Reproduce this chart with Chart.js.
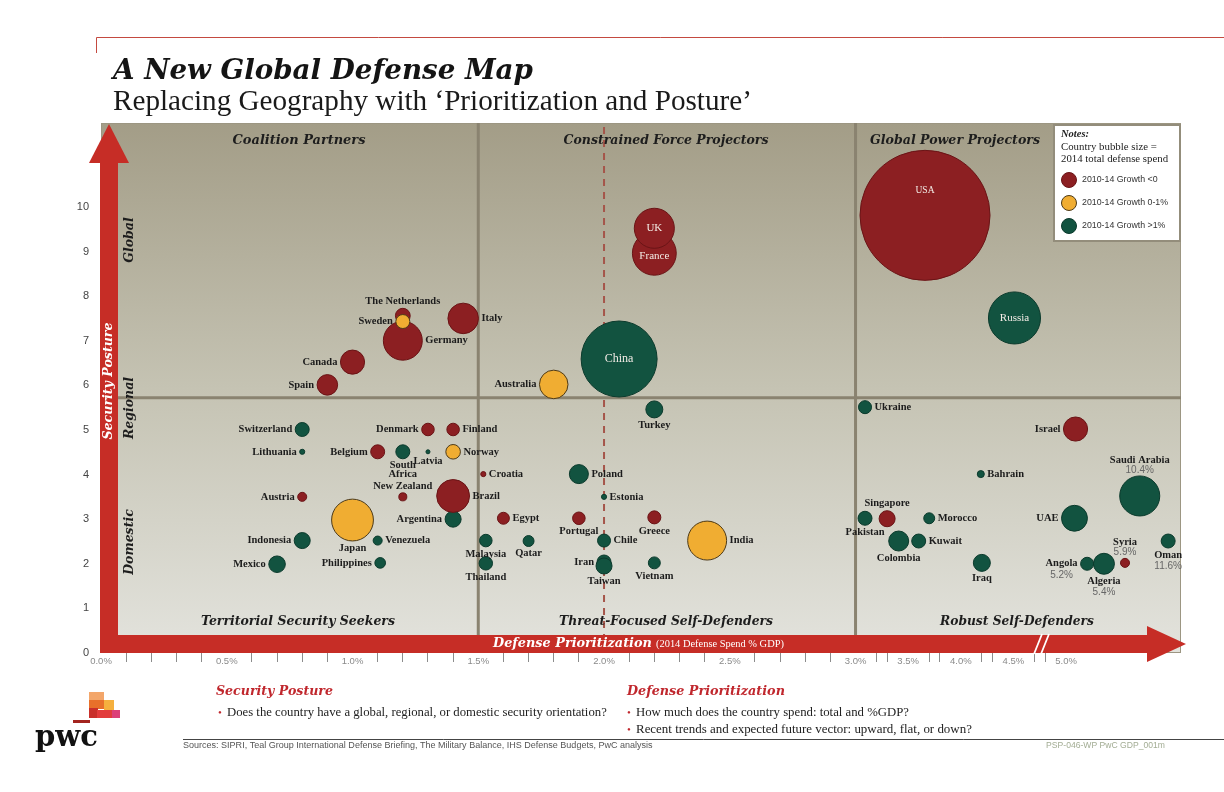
<!DOCTYPE html>
<html><head><meta charset="utf-8">
<script src="https://cdn.jsdelivr.net/npm/chart.js@4.4.1/dist/chart.umd.min.js"></script>
<style>html,body{margin:0;padding:0;background:#fff;}canvas{display:block;}</style>
</head><body>
<canvas id="c" width="1224" height="792"></canvas>
<script>
// ---------------- DATA ----------------
const countries = ['USA','China','Russia','Saudi Arabia','France','UK','Japan','India','Germany','Italy',
  'Brazil','Australia','Canada','Spain','Israel','UAE','The Netherlands','Sweden','Switzerland','Lithuania',
  'Denmark','Finland','Belgium','South Africa','Latvia','Norway','Croatia','New Zealand','Austria','Argentina',
  'Egypt','Indonesia','Venezuela','Malaysia','Qatar','Mexico','Philippines','Thailand','Turkey','Poland',
  'Estonia','Portugal','Greece','Chile','Iran','Taiwan','Vietnam','Ukraine','Bahrain','Singapore',
  'Pakistan','Morocco','Colombia','Kuwait','Iraq','Angola','Algeria','Syria','Oman'];
// position on the (broken) x axis, % of GDP
const spendPctGDP = [3.66,2.06,4.51,5.70,2.20,2.20,1.00,2.41,1.20,1.44,
  1.40,1.80,1.00,0.90,5.09,5.08,1.20,1.20,0.80,0.80,
  1.30,1.40,1.10,1.20,1.30,1.40,1.52,1.20,0.80,1.40,
  1.60,0.80,1.10,1.53,1.70,0.70,1.11,1.53,2.20,1.90,
  2.00,1.90,2.20,2.00,2.00,2.00,2.20,3.09,4.19,3.30,
  3.09,3.70,3.41,3.60,4.20,5.20,5.36,5.56,5.97];
// security posture score
const posture = [9.81,6.59,7.51,3.52,8.96,9.52,2.98,2.52,7.00,7.50,
  3.52,6.02,6.52,6.01,5.02,3.02,7.56,7.43,5.01,4.51,
  5.01,5.01,4.51,4.51,4.51,4.51,4.01,3.50,3.50,3.00,
  3.02,2.52,2.52,2.52,2.51,1.99,2.02,2.01,5.46,4.01,
  3.50,3.02,3.04,2.52,2.04,1.95,2.02,5.51,4.01,3.01,
  3.02,3.02,2.51,2.51,2.02,2.00,2.00,2.02,2.51];
// 2014 total defense spend (US$ bn)
const spendBn = [580,198,93,55,66,55,60,52,52,32,
  37,28,20,14.5,20,23,7.5,6.7,6.7,0.9,
  5.4,5.4,6.7,6.7,0.55,7.3,0.9,2.2,2.8,8.8,
  4.9,8.8,2.8,5.4,4.1,9.4,3.9,6.2,9.9,12.4,
  0.9,5.4,5.8,5.8,6.7,8.8,4.9,5.8,1.7,8.8,
  6.7,4.1,13.7,6.7,9.9,5.8,15.1,2.8,6.7];
// 2010-14 growth class
const growth = ['neg','pos','pos','pos','neg','neg','flat','flat','neg','neg',
  'neg','flat','neg','neg','neg','pos','neg','flat','pos','pos',
  'neg','neg','neg','pos','pos','flat','neg','neg','neg','pos',
  'neg','pos','pos','pos','pos','pos','pos','pos','pos','pos',
  'pos','neg','neg','pos','pos','pos','pos','pos','pos','neg',
  'pos','pos','pos','pos','pos','pos','pos','neg','pos'];
// label placement: l/r/t/b, b2 = two-line below, c = inside, cu = inside upper
const labelSide = ['cu','c','c','t','c','c','b','r','r','r',
  'r','l','l','l','l','l','t','l','l','l',
  'l','r','l','b2','b','r','r','t','l','l',
  'r','l','r','b','b','l','l','b','b','r',
  'r','b','b','r','l','b','b','r','r','t',
  'b','r','b','r','b','l','b','t','b'];
const labelNote = {'Saudi Arabia':'10.4%','Angola':'5.2%','Algeria':'5.4%','Syria':'5.9%','Oman':'11.6%'};

const groups = ['flat','neg','pos'];
const groupNames = {neg:'2010-14 Growth <0', flat:'2010-14 Growth 0-1%', pos:'2010-14 Growth >1%'};
const yTickValues = [0,1,2,3,4,5,6,7,8,9,10];
const xTickValues = [0,0.1,0.2,0.3,0.4,0.5,0.6,0.7,0.8,0.9,1.0,1.1,1.2,1.3,1.4,1.5,1.6,1.7,1.8,1.9,2.0,
  2.1,2.2,2.3,2.4,2.5,2.6,2.7,2.8,2.9,3.0,3.2,3.3,3.5,3.7,3.8,4.0,4.2,4.3,4.5,4.7,4.8,5.0];
const xTickLabels = {0:'0.0%',0.5:'0.5%',1.0:'1.0%',1.5:'1.5%',2.0:'2.0%',2.5:'2.5%',3.0:'3.0%',3.5:'3.5%',4.0:'4.0%',4.5:'4.5%',5.0:'5.0%'};
const quadrantSplitX = [1.5, 3.0];
const quadrantSplitY = 5.72;
const referenceLineX = 2.0;

// ---------------- STYLE ----------------
const colors = {
  neg:  {fill:'#8c1f22', border:'#6a1416'},
  flat: {fill:'#f0ad32', border:'#4d3a18'},
  pos:  {fill:'#125340', border:'#0b3a2c'}
};
const RED = '#c62d26';
const BREAK = 3.0, COMPRESS = 0.4185;
const tx = v => v <= BREAK ? v : BREAK + (v - BREAK) * COMPRESS;
const radius = s => 2.7 * Math.sqrt(s);

const datasets = groups.map(g => {
  const idx = [];
  countries.forEach((c, i) => { if (growth[i] === g) idx.push(i); });
  return {
    label: groupNames[g],
    idx: idx,
    data: idx.map(i => ({x: tx(spendPctGDP[i]), y: posture[i], r: radius(spendBn[i])})),
    backgroundColor: colors[g].fill,
    borderColor: colors[g].border,
    borderWidth: 1,
    hoverRadius: 0
  };
});

function T(ctx, text, x, y, o) {
  o = o || {};
  ctx.save();
  const fam = o.family || 'Liberation Serif';
  const style = (o.italic ? 'italic ' : '') + (o.bold ? 'bold ' : '');
  let size = o.size || 12;
  if (o.fit) { ctx.font = style + '100px "' + fam + '"'; size = 100 * o.fit / ctx.measureText(text).width; }
  ctx.font = style + size.toFixed(2) + 'px "' + fam + '"';
  ctx.fillStyle = o.color || '#222';
  ctx.textAlign = o.align || 'left';
  ctx.textBaseline = o.baseline || 'middle';
  ctx.translate(x, y);
  if (o.rot) ctx.rotate(o.rot);
  ctx.fillText(text, 0, 0);
  const w = ctx.measureText(text).width;
  ctx.restore();
  return w;
}

const decor = {
  id: 'decor',
  beforeDraw(chart) {
    const ctx = chart.ctx;
    ctx.save();
    ctx.fillStyle = '#fff';
    ctx.fillRect(0, 0, chart.width, chart.height);
    ctx.strokeStyle = '#c44a40'; ctx.lineWidth = 1;
    ctx.beginPath(); ctx.moveTo(96.5, 53); ctx.lineTo(96.5, 37.5); ctx.lineTo(1224, 37.5); ctx.stroke();
    ctx.restore();
    T(ctx, 'A New Global Defense Map', 113, 79, {fit:420, bold:true, italic:true, family:'DejaVu Serif', color:'#141414', baseline:'alphabetic'});
    T(ctx, 'Replacing Geography with \u2018Prioritization and Posture\u2019', 113, 110, {fit:639, family:'Liberation Serif', color:'#1a1a1a', baseline:'alphabetic'});
  },
  beforeDatasetsDraw(chart) {
    const ctx = chart.ctx, a = chart.chartArea, xs = chart.scales.x, ys = chart.scales.y;
    ctx.save();
    const g = ctx.createLinearGradient(0, a.top, 0, a.bottom);
    g.addColorStop(0, '#a39d87'); g.addColorStop(0.5, '#c5c3b3'); g.addColorStop(1, '#e3e3dd');
    ctx.fillStyle = g;
    ctx.fillRect(a.left, a.top, a.right - a.left, a.bottom - a.top);
    ctx.strokeStyle = '#9c9682'; ctx.lineWidth = 1;
    ctx.strokeRect(a.left + 0.5, a.top + 0.5, a.right - a.left - 1, a.bottom - a.top - 1);
    // quadrant lines
    ctx.strokeStyle = '#8a8370'; ctx.lineWidth = 3;
    const hy = ys.getPixelForValue(quadrantSplitY);
    ctx.beginPath(); ctx.moveTo(a.left, hy); ctx.lineTo(a.right, hy); ctx.stroke();
    quadrantSplitX.forEach(v => {
      const px = xs.getPixelForValue(tx(v));
      ctx.beginPath(); ctx.moveTo(px, a.top); ctx.lineTo(px, a.bottom); ctx.stroke();
    });
    // dashed reference line
    const dx = xs.getPixelForValue(tx(referenceLineX));
    ctx.strokeStyle = '#a5554a'; ctx.lineWidth = 2; ctx.setLineDash([7, 6]);
    ctx.beginPath(); ctx.moveTo(dx, a.top + 4); ctx.lineTo(dx, a.bottom); ctx.stroke();
    ctx.setLineDash([]);
    ctx.restore();
    // quadrant titles
    const qo = {bold:true, italic:true, family:'DejaVu Serif', color:'#1d1d1d', align:'center'};
    T(ctx, 'Coalition Partners', 299, 141, Object.assign({fit:133}, qo));
    T(ctx, 'Constrained Force Projectors', 666, 141, Object.assign({fit:205}, qo));
    T(ctx, 'Global Power Projectors', 955, 141, Object.assign({fit:170}, qo));
    T(ctx, 'Territorial Security Seekers', 298, 622, Object.assign({fit:194}, qo));
    T(ctx, 'Threat-Focused Self-Defenders', 666, 622, Object.assign({fit:214}, qo));
    T(ctx, 'Robust Self-Defenders', 1017, 622, Object.assign({fit:154}, qo));
    const vo = {bold:true, italic:true, family:'DejaVu Serif', color:'#1d1d1d', align:'center', size:12.5, rot:-Math.PI/2};
    T(ctx, 'Global', 130, 240, vo);
    T(ctx, 'Regional', 130, 408, vo);
    T(ctx, 'Domestic', 130, 542, vo);
    // red axis arrows
    ctx.save();
    ctx.fillStyle = RED;
    ctx.fillRect(100, 158, 18, a.bottom - 158);
    ctx.beginPath(); ctx.moveTo(89, 163); ctx.lineTo(109, 124); ctx.lineTo(129, 163); ctx.closePath(); ctx.fill();
    ctx.fillRect(100, 635, 1052, a.bottom - 635);
    ctx.beginPath(); ctx.moveTo(1147, 626); ctx.lineTo(1186, 644); ctx.lineTo(1147, 662); ctx.closePath(); ctx.fill();
    ctx.strokeStyle = '#fff'; ctx.lineWidth = 1.8;
    ctx.beginPath(); ctx.moveTo(1034, 654); ctx.lineTo(1042, 634); ctx.moveTo(1041, 654); ctx.lineTo(1049, 634); ctx.stroke();
    ctx.restore();
    T(ctx, 'Security Posture', 109, 381, {fit:117, bold:true, italic:true, family:'DejaVu Serif', color:'#fff', align:'center', rot:-Math.PI/2});
    T(ctx, 'Defense Prioritization', 493, 644, {fit:159, bold:true, italic:true, family:'DejaVu Serif', color:'#fff'});
    T(ctx, '(2014 Defense Spend % GDP)', 656, 644, {fit:128, family:'Liberation Serif', color:'#fff'});
  },
  afterDatasetsDraw(chart) {
    const ctx = chart.ctx;
    const LF = 'Liberation Serif';
    chart.data.datasets.forEach((ds, di) => {
      const meta = chart.getDatasetMeta(di);
      meta.data.forEach((el, k) => {
        const i = ds.idx[k];
        const name = countries[i], side = labelSide[i], note = labelNote[name];
        const x = el.x, y = el.y, r = el.options.radius;
        const lo = {bold:true, family:LF, size:10.5, color:'#1c1c1c'};
        const no = {family:'Liberation Sans', size:10, color:'#666', align:'center'};
        if (side === 'c' || side === 'cu') {
          const big = r > 30;
          T(ctx, name, x, side === 'cu' ? y - r * 0.38 : y + (name === 'France' ? 3 : 0),
            {family:LF, size: name === 'China' ? 12 : (big ? 9.5 : 11), color:'#f3ece6', align:'center'});
        } else if (side === 'l') {
          const w = T(ctx, name, x - r - 3, y, Object.assign({align:'right'}, lo));
          if (note) T(ctx, note, x - r - 3 - w / 2, y + 11, no);
        } else if (side === 'r') {
          T(ctx, name, x + r + 3, y, Object.assign({align:'left'}, lo));
        } else if (side === 't') {
          if (note) {
            T(ctx, note, x, y - r - 6, no);
            T(ctx, name, x, y - r - 16, Object.assign({align:'center'}, lo));
          } else {
            T(ctx, name, x, y - r - 7, Object.assign({align:'center'}, lo));
          }
        } else if (side === 'b') {
          T(ctx, name, x, y + r + 7, Object.assign({align:'center'}, lo));
          if (note) T(ctx, note, x, y + r + 18, no);
        } else if (side === 'b2') {
          const parts = name.split(' ');
          T(ctx, parts[0], x, y + r + 6, Object.assign({align:'center'}, lo));
          T(ctx, parts.slice(1).join(' '), x, y + r + 15, Object.assign({align:'center'}, lo));
        }
      });
    });
  },
  afterDraw(chart) {
    const ctx = chart.ctx;
    // notes / legend box
    ctx.save();
    ctx.fillStyle = '#fff'; ctx.fillRect(1053, 124, 128, 118);
    ctx.strokeStyle = '#938d7b'; ctx.lineWidth = 2; ctx.strokeRect(1054, 125, 126, 116);
    ctx.restore();
    T(ctx, 'Notes:', 1061, 134, {italic:true, bold:true, family:'Liberation Serif', size:10.5, color:'#222'});
    T(ctx, 'Country bubble size =', 1061, 147, {family:'Liberation Serif', size:10.8, color:'#222'});
    T(ctx, '2014 total defense spend', 1061, 159, {family:'Liberation Serif', size:10.8, color:'#222'});
    ['neg','flat','pos'].forEach((g, k) => {
      const cy = 180 + k * 23;
      ctx.save();
      ctx.beginPath(); ctx.arc(1069, cy, 7.5, 0, Math.PI * 2);
      ctx.fillStyle = colors[g].fill; ctx.fill();
      ctx.strokeStyle = colors[g].border; ctx.lineWidth = 1; ctx.stroke();
      ctx.restore();
      T(ctx, groupNames[g], 1082, cy, {family:'Liberation Sans', size:8.8, color:'#333'});
    });
    // bottom explanatory text
    const ho = {bold:true, italic:true, family:'DejaVu Serif', color:'#c0272d'};
    T(ctx, 'Security Posture', 216, 692, Object.assign({fit:117}, ho));
    T(ctx, 'Defense Prioritization', 627, 692, Object.assign({fit:158}, ho));
    const bo = {family:'Liberation Serif', color:'#222'};
    const bullets = [
      [218, 713, 'Does the country have a global, regional, or domestic security orientation?', 380],
      [627, 713, 'How much does the country spend: total and %GDP?', 273],
      [627, 730, 'Recent trends and expected future vector: upward, flat, or down?', 336]
    ];
    bullets.forEach(b => {
      T(ctx, '\u2022', b[0], b[1], {family:'Liberation Serif', size:11, color:'#c0272d'});
      T(ctx, b[2], b[0] + 9, b[1], Object.assign({fit:b[3]}, bo));
    });
    ctx.save();
    ctx.strokeStyle = '#444'; ctx.lineWidth = 1;
    ctx.beginPath(); ctx.moveTo(183, 739.5); ctx.lineTo(1224, 739.5); ctx.stroke();
    ctx.restore();
    T(ctx, 'Sources: SIPRI, Teal Group International Defense Briefing, The Military Balance, IHS Defense Budgets, PwC analysis', 183, 746,
      {family:'Liberation Sans', fit:470, color:'#555'});
    T(ctx, 'PSP-046-WP PwC GDP_001m', 1165, 746, {family:'Liberation Sans', size:8.6, color:'#a3ad94', align:'right'});
    // PwC logo
    ctx.save();
    const blocks = [
      [89,692,15,8,'#f3a66a'], [89,700,16,9,'#e8702a'], [104,700,10,10,'#f5b03e'],
      [89,708,9,10,'#c9302b'], [97,710,17,8,'#e23c3c'], [112,710,8,8,'#dc3f78'], [73,720,17,3,'#a3241f']
    ];
    blocks.forEach(b => { ctx.fillStyle = b[4]; ctx.fillRect(b[0], b[1], b[2], b[3]); });
    ctx.restore();
    T(ctx, 'pwc', 35, 746, {bold:true, family:'DejaVu Serif', fit:63, color:'#111', baseline:'alphabetic'});
  }
};

const labelFor = v => {
  const key = Math.round(v * 10) / 10;
  return xTickLabels[key] || '';
};

new Chart(document.getElementById('c'), {
  type: 'bubble',
  data: { datasets },
  options: {
    responsive: false,
    animation: false,
    events: [],
    layout: { autoPadding: false, padding: { left: 71, top: 123, right: 43, bottom: 119 } },
    scales: {
      x: {
        type: 'linear', min: 0, max: 4.294,
        afterBuildTicks: s => { s.ticks = xTickValues.map(v => ({ value: tx(v) })); },
        afterFit: s => { s.height = 20; },
        ticks: {
          autoSkip: false, maxRotation: 0, minRotation: 0, padding: -6,
          color: '#8a8a8a', font: { family: 'Liberation Sans', size: 9.5 },
          callback: (val, i) => labelFor(xTickValues[i])
        },
        grid: {
          drawOnChartArea: false, tickLength: 9, lineWidth: 1,
          color: c => labelFor(xTickValues[c.index]) ? 'rgba(0,0,0,0)' : '#8c8c8c'
        },
        border: { display: false }
      },
      y: {
        type: 'linear', min: 0, max: 11.88,
        afterBuildTicks: s => { s.ticks = yTickValues.map(v => ({ value: v })); },
        afterFit: s => { s.width = 30; },
        ticks: { padding: 4, color: '#444', font: { family: 'Liberation Sans', size: 11 }, callback: v => String(v) },
        grid: { display: false },
        border: { display: false }
      }
    },
    plugins: { legend: { display: false }, tooltip: { enabled: false } }
  },
  plugins: [decor]
});
</script>
</body></html>
